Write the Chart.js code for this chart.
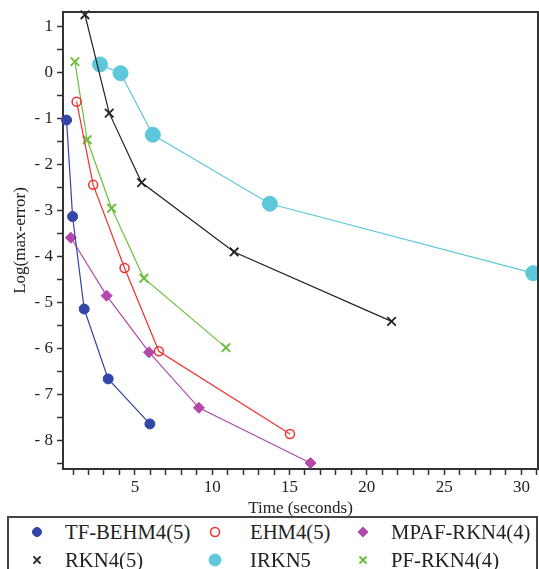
<!DOCTYPE html>
<html>
<head>
<meta charset="utf-8">
<script src="https://cdn.jsdelivr.net/npm/chart.js@4.4.1/dist/chart.umd.min.js"></script>
<style>
    body { margin: 0; background: #fff; }
    #wrap { position: relative; width: 539px; height: 569px; overflow: hidden; }
    #legend {
        position: absolute; left: 7px; top: 516px; width: 527px; height: 80px;
        border: 2px solid #444; background: #fff;
        display: grid; grid-template-columns: 178px 148px auto; grid-auto-rows: 28px;
        font-family: "Liberation Serif", "Times New Roman", serif; font-size: 20.7px; color: #222;
    }
    #legend div { display: flex; align-items: center; white-space: nowrap; }
    #legend canvas { margin-left: 19px; margin-right: 19px; flex: none; }
    #legend div:nth-child(3n+2) span { margin-left: 7px; }
</style>
</head>
<body>
<div id="wrap">
    <canvas id="grafico" width="539" height="569"></canvas>
    <div id="legend"></div>
</div>
<script>
// serie: tempo (s) e log(max-error)
var nomi = ['TF-BEHM4(5)', 'EHM4(5)', 'MPAF-RKN4(4)', 'RKN4(5)', 'IRKN5', 'PF-RKN4(4)'];

var tfX = [0.58, 0.97, 1.72, 3.27, 5.97];
var tfY = [-1.04, -3.14, -5.15, -6.67, -7.65];

var ehmX = [1.23, 2.30, 4.33, 6.55, 15.03];
var ehmY = [-0.64, -2.45, -4.26, -6.07, -7.87];

var mpafX = [0.86, 3.17, 5.91, 9.14, 16.36];
var mpafY = [-3.60, -4.86, -6.09, -7.30, -8.50];

var rknX = [1.77, 3.34, 5.43, 11.42, 21.60];
var rknY = [1.25, -0.89, -2.40, -3.91, -5.42];

var irknX = [2.74, 4.07, 6.16, 13.73, 30.76];
var irknY = [0.17, -0.02, -1.36, -2.86, -4.37];

var pfX = [1.12, 1.91, 3.49, 5.58, 10.89];
var pfY = [0.23, -1.47, -2.96, -4.48, -5.99];

// tacche degli assi
var tickX = [];
for (var t = 1; t <= 31; t++) { tickX.push(t); }
var tickY = [];
for (var s = -8.5; s <= 1; s += 0.5) { tickY.push(s); }

var serif = '"Liberation Serif", "Times New Roman", serif';

function punti(xs, ys) {
    var out = [];
    for (var i = 0; i < xs.length; i++) {
        out.push({x: xs[i], y: ys[i]});
    }
    return out;
}

function serie(nome, xs, ys, colore, stile, raggio, pieno, spessore) {
    return {
        label: nome,
        data: punti(xs, ys),
        borderColor: colore,
        backgroundColor: pieno ? colore : '#fff',
        borderWidth: 1.2,
        pointStyle: stile,
        pointRadius: raggio,
        pointHoverRadius: raggio,
        pointBackgroundColor: pieno ? colore : 'rgba(0,0,0,0)',
        pointBorderColor: colore,
        pointBorderWidth: spessore,
        tension: 0,
        clip: false
    };
}

var datasets = [
    serie(nomi[0], tfX, tfY, '#3445a8', 'circle', 5, true, 1),
    serie(nomi[1], ehmX, ehmY, '#f03030', 'circle', 4.5, false, 1.5),
    serie(nomi[2], mpafX, mpafY, '#b348aa', 'rectRot', 5.5, true, 1),
    serie(nomi[3], rknX, rknY, '#222222', 'crossRot', 6, false, 1.8),
    serie(nomi[4], irknX, irknY, '#5ec8da', 'circle', 7.5, true, 1),
    serie(nomi[5], pfX, pfY, '#6cbf3c', 'crossRot', 6, false, 2)
];

// cornice attorno all'area del grafico
var cornice = {
    id: 'cornice',
    afterDraw: function(chart) {
        var a = chart.chartArea;
        var ctx = chart.ctx;
        ctx.save();
        ctx.strokeStyle = '#333';
        ctx.lineWidth = 2;
        ctx.beginPath();
        ctx.moveTo(a.left, a.top);
        ctx.lineTo(a.right, a.top);
        ctx.lineTo(a.right, a.bottom);
        ctx.stroke();
        ctx.restore();
    }
};

var ctx = document.getElementById('grafico');
var chart = new Chart(ctx, {
    type: 'line',
    data: { datasets: datasets },
    options: {
        responsive: false,
        animation: false,
        layout: { autoPadding: false, padding: { top: 12, right: 1, bottom: 52, left: 0 } },
        plugins: {
            legend: { display: false },
            tooltip: { enabled: false }
        },
        scales: {
            x: {
                type: 'linear',
                min: 0.35,
                max: 31.07,
                afterBuildTicks: function(axis) {
                    axis.ticks = tickX.map(function(v) { return {value: v}; });
                },
                afterFit: function(axis) {
                    axis.height = 48;
                    axis.paddingLeft = 0;
                    axis.paddingRight = 0;
                },
                ticks: {
                    autoSkip: false,
                    maxRotation: 0,
                    padding: 2,
                    color: '#222',
                    font: { family: serif, size: 17 },
                    callback: function(v) { return v % 5 === 0 ? v : ''; }
                },
                grid: { drawOnChartArea: false, drawTicks: true, tickLength: 6, tickColor: '#333', tickWidth: 1.5 },
                border: { color: '#333', width: 2 },
                title: {
                    display: true,
                    text: 'Time (seconds)',
                    color: '#222',
                    font: { family: serif, size: 17 },
                    padding: { top: 0, bottom: -2 }
                }
            },
            y: {
                type: 'linear',
                min: -8.63,
                max: 1.31,
                afterBuildTicks: function(axis) {
                    axis.ticks = tickY.map(function(v) { return {value: v}; });
                },
                afterFit: function(axis) {
                    axis.width = 63;
                    axis.paddingTop = 0;
                    axis.paddingBottom = 0;
                },
                ticks: {
                    autoSkip: false,
                    padding: 4,
                    color: '#222',
                    font: { family: serif, size: 17 },
                    callback: function(v) {
                        if (!Number.isInteger(v)) { return ''; }
                        return v < 0 ? '- ' + (-v) : '' + v;
                    }
                },
                grid: { drawOnChartArea: false, drawTicks: true, tickLength: 6, tickColor: '#333', tickWidth: 1.5 },
                border: { color: '#333', width: 2 },
                title: {
                    display: true,
                    text: 'Log(max-error)',
                    color: '#222',
                    font: { family: serif, size: 17 },
                    padding: { top: 10, bottom: 0 }
                }
            }
        }
    },
    plugins: [cornice]
});

// legenda html su tre colonne
var legenda = document.getElementById('legend');
chart.data.datasets.forEach(function(ds, i) {
    var cella = document.createElement('div');
    var c = document.createElement('canvas');
    c.width = 18; c.height = 18;
    var g = c.getContext('2d');
    g.strokeStyle = ds.pointBorderColor;
    g.fillStyle = ds.pointBackgroundColor;
    g.lineWidth = ds.pointBorderWidth;
    var r = ds.pointStyle === 'circle' ? Math.min(ds.pointRadius, 4.5) : 5;
    if (i === 4) { r = 6; }
    Chart.helpers.drawPoint(g, { pointStyle: ds.pointStyle, radius: r, rotation: 0, borderWidth: ds.pointBorderWidth }, 9, 9);
    var testo = document.createElement('span');
    testo.textContent = ds.label;
    cella.appendChild(c);
    cella.appendChild(testo);
    legenda.appendChild(cella);
});
</script>
</body>
</html>
